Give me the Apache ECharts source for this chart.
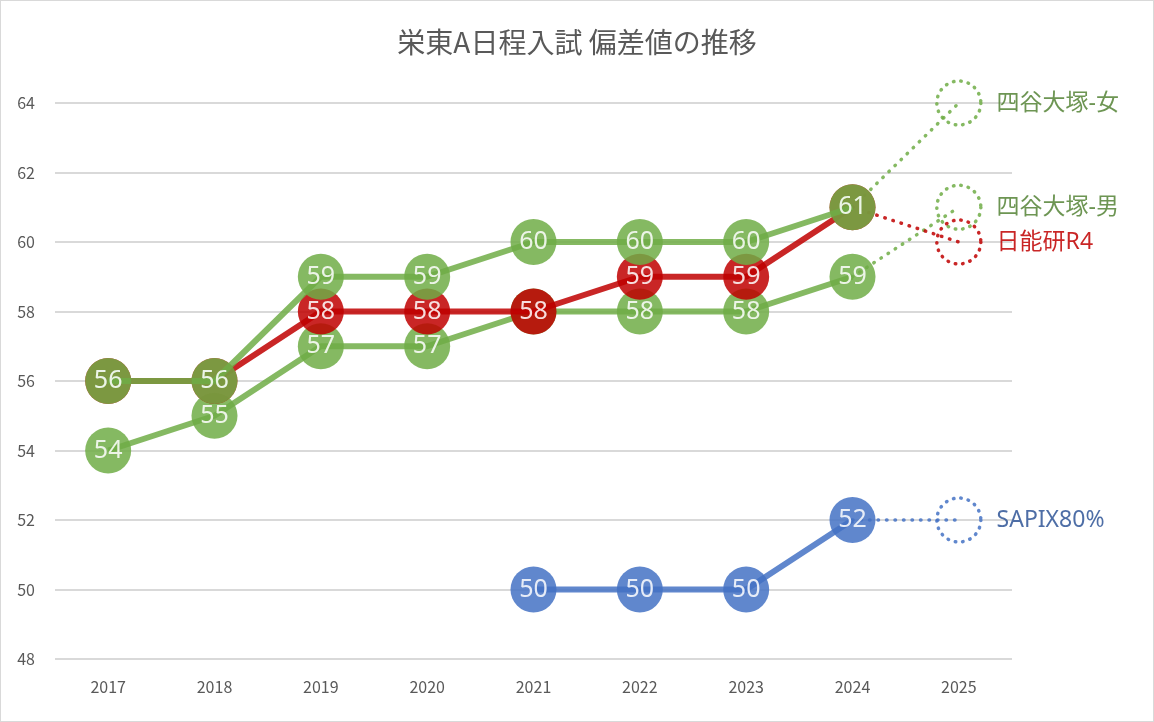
<!DOCTYPE html>
<html>
<head>
<meta charset="utf-8">
<script src="https://cdn.jsdelivr.net/npm/echarts@6/dist/echarts.min.js"></script>
<style>
	html, body { margin: 0; padding: 0; background: #fff; }
	#chart { width: 1152px; height: 720px; border: 1px solid #d9d9d9; }
</style>
</head>
<body>
<div id="chart"></div>
<script type="text/javascript">
	// 年度
	var years = ['2017', '2018', '2019', '2020', '2021', '2022', '2023', '2024', '2025'];
	// 偏差値 (2017-2024)
	var yotsuyaGirls = [56, 56, 59, 59, 60, 60, 60, 61, null];
	var yotsuyaBoys = [54, 55, 57, 57, 58, 58, 58, 59, null];
	var nichinoken = [56, 56, 58, 58, 58, 59, 59, 61, null];
	var sapix = [null, null, null, null, 50, 50, 50, 52, null];
	// 2025 予想
	var forecast = { girls: 64, boys: 61, nichi: 60, sapix: 52 };
	var yTicks = [48, 50, 52, 54, 56, 58, 60, 62, 64];

	var GREEN = '#70ad47', RED = '#c00000', BLUE = '#4472c4';
	var FONT = '"Noto Sans", "Noto Sans CJK JP", sans-serif';
	var CJK = '"Noto Sans CJK JP", sans-serif';

	function solid(name, data, color, z) {
		return {
			name: name,
			type: 'line',
			data: data,
			z: z,
			symbol: 'circle',
			symbolSize: 46,
			connectNulls: false,
			lineStyle: { color: color, width: 6, opacity: 0.85 },
			itemStyle: { color: color, opacity: 0.85 },
			label: {
				show: true,
				position: 'inside',
				color: '#fff',
				fontSize: 25,
				fontFamily: FONT
			},
			emphasis: { disabled: true },
			animation: false
		};
	}

	// 2024 -> 2025 の点線
	function dotted(name, data, value, color, textColor) {
		var d = [];
		for (var i = 0; i < years.length; i++) d.push(null);
		d[7] = { value: data[7], symbol: 'none', label: { show: false } };
		d[8] = value;
		return {
			name: name + '予想',
			type: 'line',
			data: d,
			z: 1,
			symbol: 'circle',
			symbolSize: 44,
			lineStyle: { color: color, width: 3.5, type: [0.5, 8], cap: 'round', opacity: 0.85 },
			itemStyle: {
				color: 'rgba(0,0,0,0)',
				borderColor: color,
				borderWidth: 3.5,
				borderType: [0.5, 7],
				borderCap: 'round',
				opacity: 0.85
			},
			label: {
				show: true,
				position: 'right',
				distance: 14,
				formatter: name,
				color: textColor,
				fontSize: 23,
				fontFamily: FONT
			},
			emphasis: { disabled: true },
			animation: false
		};
	}

	var chart = echarts.init(document.getElementById('chart'));
	chart.setOption({
		title: {
			text: '栄東A日程入試 偏差値の推移',
			left: 'center',
			top: 22,
			textStyle: { color: '#595959', fontSize: 28, fontWeight: 'normal', fontFamily: CJK }
		},
		grid: { left: 54, right: 141, top: 102, bottom: 62, containLabel: false },
		xAxis: {
			type: 'category',
			data: years,
			boundaryGap: true,
			axisLine: { show: false },
			axisTick: { show: false },
			axisLabel: { color: '#595959', fontSize: 16, margin: 20, fontFamily: CJK }
		},
		yAxis: {
			type: 'value',
			min: yTicks[0],
			max: yTicks[yTicks.length - 1],
			interval: 2,
			axisLine: { show: false },
			axisTick: { show: false },
			axisLabel: { color: '#595959', fontSize: 16, margin: 20, fontFamily: CJK },
			splitLine: { lineStyle: { color: '#d9d9d9', width: 2 } }
		},
		series: [
			dotted('四谷大塚-女', yotsuyaGirls, forecast.girls, GREEN, '#548235'),
			dotted('四谷大塚-男', yotsuyaBoys, forecast.boys, GREEN, '#548235'),
			dotted('日能研R4', nichinoken, forecast.nichi, RED, '#c00000'),
			dotted('SAPIX80%', sapix, forecast.sapix, BLUE, '#2f5597'),
			solid('SAPIX80%', sapix, BLUE, 2),
			solid('四谷大塚-男', yotsuyaBoys, GREEN, 3),
			solid('日能研R4', nichinoken, RED, 4),
			solid('四谷大塚-女', yotsuyaGirls, GREEN, 5)
		]
	});
</script>
</body>
</html>
